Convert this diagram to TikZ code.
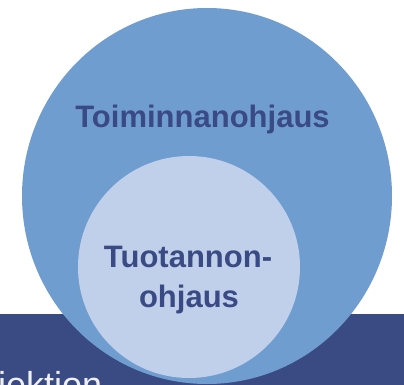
\documentclass[tikz,border=0pt]{standalone}
\usepackage{fontspec}
\setmainfont{Liberation Sans}
\definecolor{outerblue}{HTML}{709DCF}
\definecolor{innerblue}{HTML}{C0D0EA}
\definecolor{bandblue}{HTML}{3A4A82}
\definecolor{labelblue}{HTML}{394A84}
\begin{document}
\begin{tikzpicture}[x=1pt,y=-1pt,
  label text/.style={font=\fontsize{31}{36}\selectfont\bfseries, text=labelblue, inner sep=0pt, anchor=base},
  band text/.style={font=\fontsize{36}{40}\selectfont, text=white!92!bandblue, inner sep=0pt, anchor=base west}]
\useasboundingbox (0,0) rectangle (404,385);
\clip (0,0) rectangle (404,385);
\fill[bandblue] (0,314) rectangle (404,385);
\node[band text] (band) at (-2,397) {jektion};
\fill[outerblue] (207,196) ellipse[x radius=185, y radius=188];
\fill[innerblue] (189,267) circle[radius=111];
\node[label text] (outer) at (202.5,128) {Toiminnanohjaus};
\node[label text] (inner1) at (188,267) {Tuotannon-};
\node[label text] (inner2) at (189,307) {ohjaus};
\end{tikzpicture}
\end{document}
